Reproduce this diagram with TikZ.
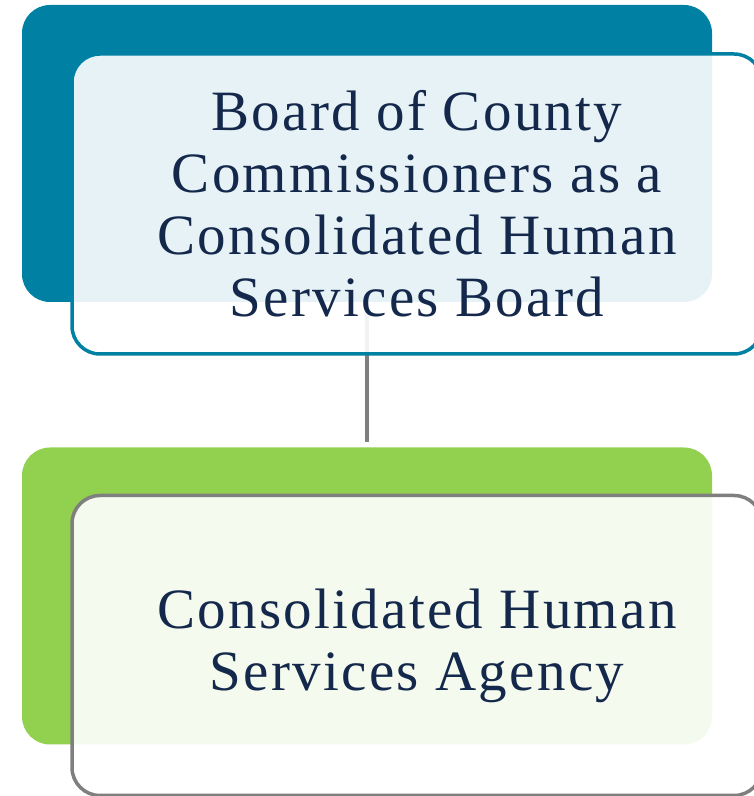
\documentclass[tikz,border=0pt]{standalone}
\usepackage{fontspec}
\setmainfont{Liberation Serif}
\newfontfamily\boxfont[LetterSpace=4]{Liberation Serif}
\usepackage{tikz}
\usetikzlibrary{positioning}
\definecolor{teal1}{HTML}{0080A3}
\definecolor{green1}{HTML}{92D050}
\definecolor{gray1}{HTML}{7F7F7F}
\definecolor{navy1}{HTML}{14284B}
\tikzstyle{backbox} = [rectangle, rounded corners=28pt, minimum width=690pt, minimum height=297pt, inner sep=0pt]
\tikzstyle{frontbox} = [rectangle, rounded corners=28pt, minimum width=690pt, minimum height=300pt, fill=white, fill opacity=0.9, text opacity=1, line width=3.5pt, text=navy1, align=center, font=\boxfont\fontsize{57}{62}\selectfont]

\begin{document}
\begin{tikzpicture}[x=1pt, y=1pt]
			\useasboundingbox (0,0) rectangle (754,796);
			\clip (0,0) rectangle (754,796);
			
			\node [backbox, fill=teal1] (board) at (367,642.5) {};
			\node [backbox, fill=green1] (agency) at (367,200) {};
			
			\draw [gray1, line width=4pt] (board.south) -- ([yshift=5pt]agency.north);
			
			\node [frontbox, draw=teal1] (boardtxt) at (417,592) {Board of County\\Commissioners as a\\Consolidated Human\\Services Board};
			\node [frontbox, draw=gray1] (agencytxt) at (417,150.5) {\raisebox{-4pt}{Consolidated Human}\\\raisebox{-4pt}{Services Agency}};
			
		\end{tikzpicture}
\end{document}
